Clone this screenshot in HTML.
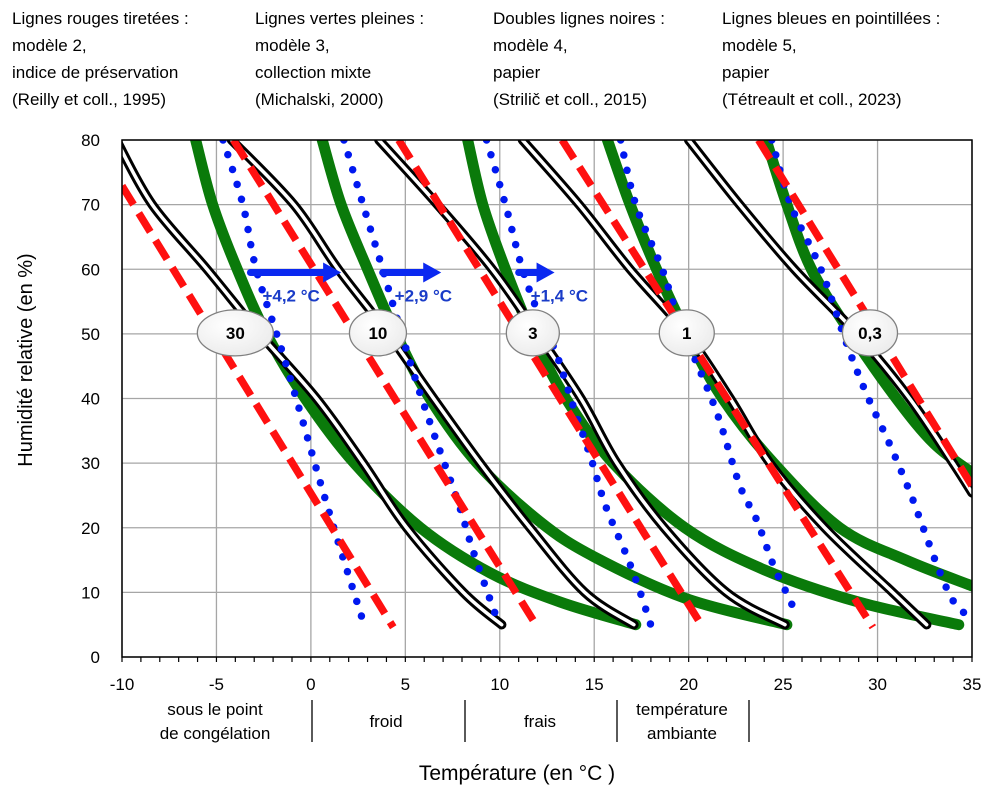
<!DOCTYPE html>
<html><head><meta charset="utf-8"><style>
body{margin:0;background:#fff;}
svg text{font-family:"Liberation Sans",Arial,sans-serif;}
</style></head><body>
<svg id="chart" width="1000" height="800" viewBox="0 0 1000 800" xmlns="http://www.w3.org/2000/svg">
<g font-size="17" fill="#000">
<text x="12" y="24">Lignes rouges tiretées :</text><text x="12" y="51">modèle 2,</text><text x="12" y="78">indice de préservation</text><text x="12" y="105">(Reilly et coll., 1995)</text>
<text x="255" y="24">Lignes vertes pleines :</text><text x="255" y="51">modèle 3,</text><text x="255" y="78">collection mixte</text><text x="255" y="105">(Michalski, 2000)</text>
<text x="493" y="24">Doubles lignes noires :</text><text x="493" y="51">modèle 4,</text><text x="493" y="78">papier</text><text x="493" y="105">(Strilič et coll., 2015)</text>
<text x="722" y="24">Lignes bleues en pointillées :</text><text x="722" y="51">modèle 5,</text><text x="722" y="78">papier</text><text x="722" y="105">(Tétreault et coll., 2023)</text>
</g>
<defs><clipPath id="pc"><rect x="122" y="140" width="850" height="517"/></clipPath>
<radialGradient id="eg" cx="0.4" cy="0.35" r="0.8"><stop offset="0" stop-color="#fff"/><stop offset="1" stop-color="#e8e8e8"/></radialGradient></defs>
<g id="grid"></g>
<g id="series" clip-path="url(#pc)"></g>
<g id="axes"></g>
<g id="annot"></g>
<text x="0" y="0" font-size="20" transform="translate(32,360) rotate(-90)" text-anchor="middle">Humidité relative (en %)</text>
<text x="517" y="780" font-size="21" text-anchor="middle">Température (en °C )</text>
<g font-size="17" text-anchor="middle">
<text x="215" y="715">sous le point</text><text x="215" y="739">de congélation</text>
<text x="386" y="727">froid</text><text x="540" y="727">frais</text>
<text x="682" y="715">température</text><text x="682" y="739">ambiante</text>
<g stroke="#000" stroke-width="1.3"><line x1="312" y1="700" x2="312" y2="742"/><line x1="465" y1="700" x2="465" y2="742"/><line x1="617" y1="700" x2="617" y2="742"/><line x1="749" y1="700" x2="749" y2="742"/></g>
</g>
</svg>
<script>
const xTicks=[-10,-5,0,5,10,15,20,25,30,35];
const yTicks=[0,10,20,30,40,50,60,70,80];
// red dashed (model 2)
const redT=[[-10,4.36],[-4.1,12],[4.65,20.75],[13.3,29.75],[23.7,35]];
const redRH=[[72.9,4.6],[80,4.6],[80,4.6],[80,4.6],[80,26.5]];
// green (model 3)
const greenT=[[-6.1,-5.2,-3.9,-2.35,-0.3,2.3,5.8,9.5,13.2,17.2],[0.6,1.6,3.0,4.5,6.3,8.8,12.1,15,19.9,25.2],[8.3,9.1,10.3,11.7,13.5,16,19.8,24,29,34.3],[15.7,16.9,18.3,19.9,21.8,24.5,28,31.5,35],[24.1,25.2,26.5,28.6,31,33,35]];
const greenRH=[[80,70,60,50,40,30,20,13,8.5,5],[80,70,60,50,40,30,21,15.5,9,5],[80,70,60,50,40,30,20,13.5,8.5,5],[80,70,60,50,40,30,20,15,11],[80,70,60,50,40,33,28.5]];
// black double (model 4)
const blackT=[[-10.3,-8.4,-5.5,-2.7,0.3,2.77,5.07,8.07,10.1],[-4.2,-0.9,1.45,4.1,6.5,8.96,11.6,14.5,17.1],[3.6,6.7,9.6,12.0,14.3,16.2,18.7,22.0,25.1],[11.2,14.2,16.9,19.9,22.2,24.3,27.2,30.8,32.6],[20,22.7,25.6,28.9,31.7,34.0,35]];
const blackRH=[[80,70,60,50,40,30,20,10,5],[80,70,60,50,40,30,20,10,5],[80,70,60,50,40,30,20,10,5],[80,70,60,50,40,30,20,10,5],[80,70,60,50,40,30,25.4]];
// blue dotted (model 5)
const blueT=[[-4.65,-3.6,-2.9,-1.64,-0.58,0.48,1.54,2.69],[1.75,2.76,3.8,4.7,5.6,6.48,7.8,8.6,9.84],[9.3,10.3,11.2,12.2,13.0,13.9,14.8,15.6,16.7,17.4,18.0],[16.4,17.2,18.6,19.6,20.6,21.6,22.7,23.6,24.5,25.2,25.8],[24.4,25.4,27,28.3,29.4,30.6,31.7,32.4,33.3,34,34.7]];
const blueRH=[[80,70,60,48.4,38,27.2,16.9,6.2],[80,70,60,51,42.4,34.8,23.9,16.3,6],[80,70,60,52,46.9,38.7,31,23.4,15.8,10.3,4.9],[80,70,60,51,44.3,36.9,26.6,21.2,14.1,9.8,6],[80,70,60,49,40.8,33.2,25.6,20.1,13.1,8.7,6.5]];
const labelNames=["30","10","3","1","0,3"];
const labelT=[-4,3.55,11.75,19.9,29.6];
const labelW=[76,57,53,55,55];
const shiftT=[-3.2,3.8,11.0];
const shiftEnd=[1.6,6.9,12.9];
const shiftText=["+4,2 °C","+2,9 °C","+1,4 °C"];
const arrowRH=59.5;

const X0=122,X1=972,Y0=657,Y1=140;
const sx=t=>X0+(t+10)/45*(X1-X0);
const sy=h=>Y0-h/80*(Y0-Y1);
const NS="http://www.w3.org/2000/svg";
function mk(tag,attrs,parent){const e=document.createElementNS(NS,tag);for(const k in attrs)e.setAttribute(k,attrs[k]);parent.appendChild(e);return e;}
function pathD(T,H){const p=T.map((t,i)=>[sx(t),sy(H[i])]);if(p.length<3)return `M${p[0]}L${p[1]}`;let d=`M${p[0][0]},${p[0][1]}`;for(let i=0;i<p.length-1;i++){const a=p[i-1]||p[i],b=p[i],c=p[i+1],e=p[i+2]||c;const c1=[b[0]+(c[0]-a[0])/6,b[1]+(c[1]-a[1])/6],c2=[c[0]-(e[0]-b[0])/6,c[1]-(e[1]-b[1])/6];d+=`C${c1[0]},${c1[1]} ${c2[0]},${c2[1]} ${c[0]},${c[1]}`;}return d;}
const grid=document.getElementById('grid');
xTicks.forEach(t=>{const l=mk('line',{x1:sx(t),x2:sx(t),y1:Y1,y2:Y0,stroke:'#a6a6a6','stroke-width':1.3},grid);

});
yTicks.forEach(h=>{const l=mk('line',{x1:X0,x2:X1,y1:sy(h),y2:sy(h),stroke:'#a6a6a6','stroke-width':1.3},grid);

});
const ser=document.getElementById('series');
greenT.forEach((T,i)=>{const p=mk('path',{d:pathD(T,greenRH[i]),fill:'none',stroke:'#0a7a0a','stroke-width':11,'stroke-linecap':'round'},ser);

});
blackT.forEach((T,i)=>{const d=pathD(T,blackRH[i]);const p=mk('path',{d,fill:'none',stroke:'#000','stroke-width':9.5,'stroke-linecap':'round'},ser);


const w=mk('path',{d,fill:'none',stroke:'#fff','stroke-width':3.5,'stroke-linecap':'round'},ser);

});
blueT.forEach((T,i)=>{const p=mk('path',{d:pathD(T,blueRH[i]),fill:'none',stroke:'#0018f0','stroke-width':7.5,'stroke-linecap':'round','stroke-dasharray':'0 15.5'},ser);

});
redT.forEach((T,i)=>{const p=mk('path',{d:pathD(T,redRH[i]),fill:'none',stroke:'#ff1010','stroke-width':7.5,'stroke-dasharray':'22 10'},ser);

});
const ax=document.getElementById('axes');
mk('rect',{x:X0,y:Y1,width:X1-X0,height:Y0-Y1,fill:'none',stroke:'#000','stroke-width':1.5},ax);
for(let t=-10;t<=35;t++){mk('line',{x1:sx(t),x2:sx(t),y1:Y0,y2:Y0+5,stroke:'#000','stroke-width':1.2},ax);}
xTicks.forEach(t=>{const e=mk('text',{x:sx(t),y:690,'font-size':17,'text-anchor':'middle'},ax);e.textContent=t;

});
yTicks.forEach(h=>{const e=mk('text',{x:100,y:sy(h)+6,'font-size':17,'text-anchor':'end'},ax);e.textContent=h;

});
const an=document.getElementById('annot');
labelNames.forEach((n,i)=>{const cx=sx(labelT[i]),cy=sy(50)-1;const el=mk('ellipse',{cx,cy,rx:labelW[i]/2,ry:23,fill:'url(#eg)',stroke:'#808080','stroke-width':1.3},an);


const t=mk('text',{x:cx,y:cy+6,'font-size':17,'font-weight':'bold','text-anchor':'middle'},an);t.textContent=n;

});
shiftT.forEach((t,i)=>{const x1=sx(t),x2=sx(shiftEnd[i]),y=sy(arrowRH);
const l=mk('path',{d:`M${x1},${y}L${x2-16},${y}`,stroke:'#0a28f0','stroke-width':7,'stroke-linecap':'round'},an);


const h=mk('polygon',{points:`${x2-18},${y-10} ${x2},${y} ${x2-18},${y+10}`,fill:'#0a28f0'},an);


const tx=mk('text',{x:x1+12,y:y+29,'font-size':17,'font-weight':'bold',fill:'#1a3cc8'},an);tx.textContent=shiftText[i];

});
</script>
</body></html>
